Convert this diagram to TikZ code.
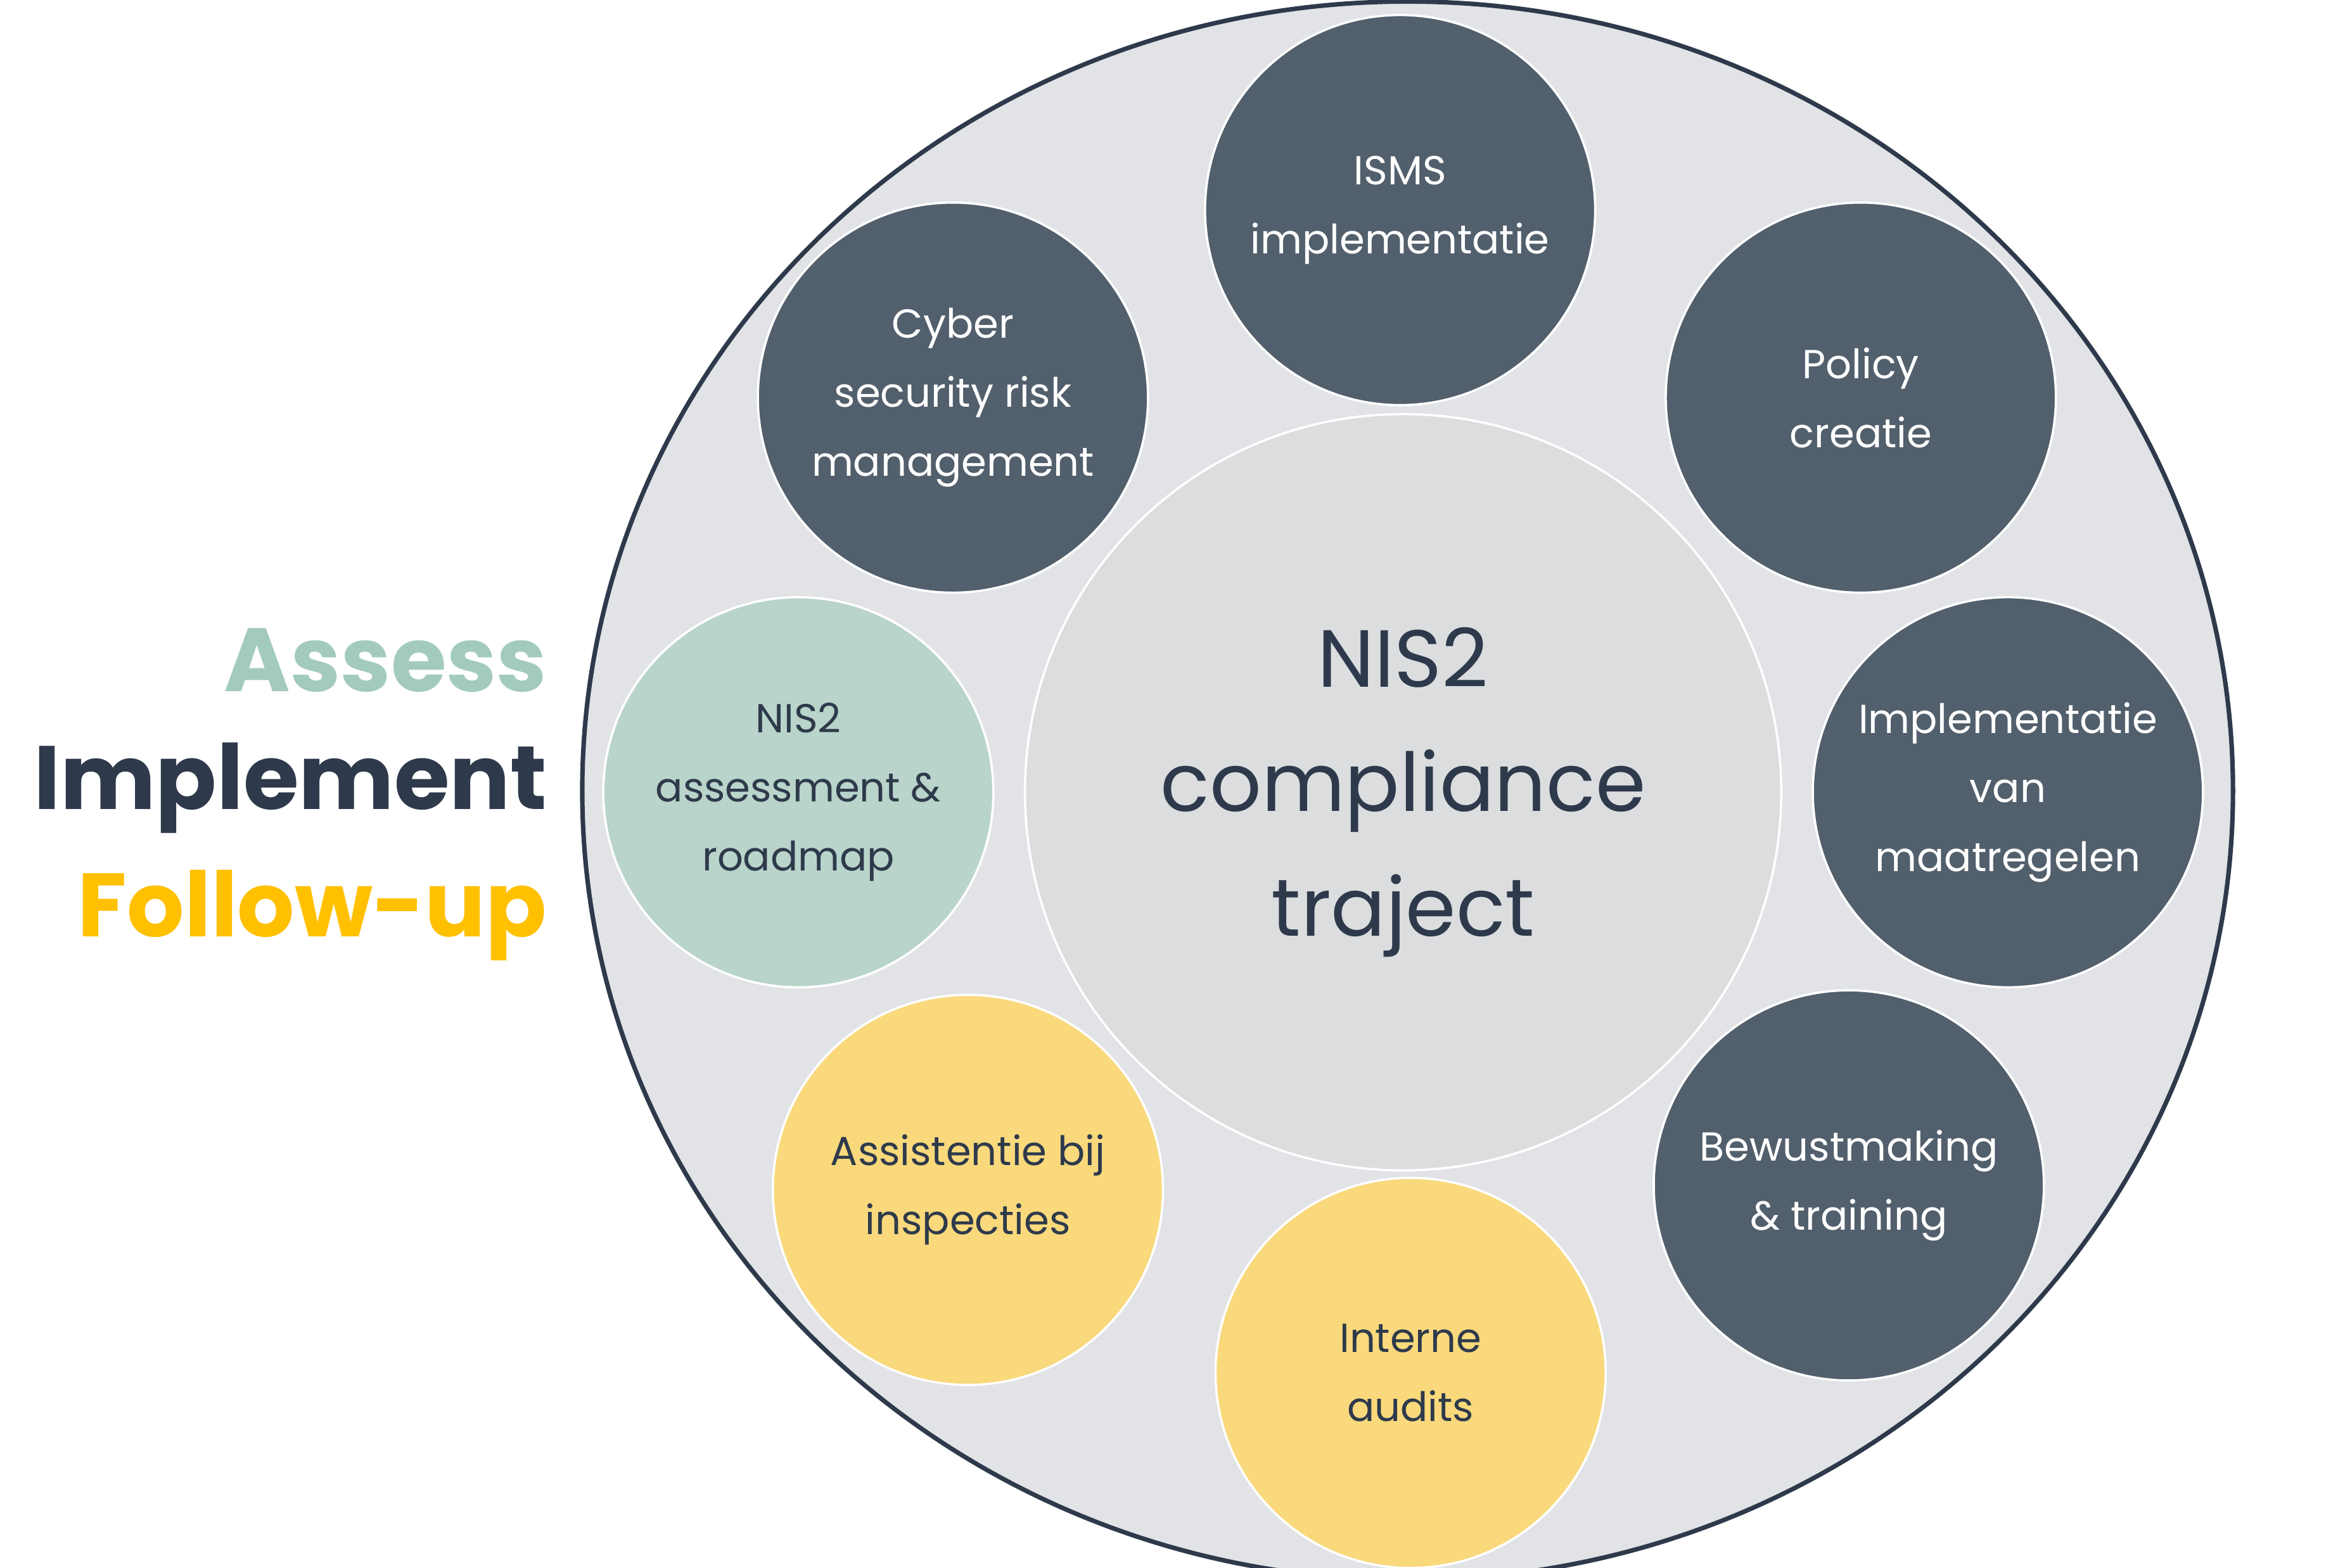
\documentclass[tikz,border=0pt]{standalone}
\usetikzlibrary{shapes.geometric}
\usepackage{fontspec}
\setmainfont{Poppins}
\definecolor{dk}{HTML}{525F6C}
\definecolor{bg}{HTML}{E1E3E6}
\definecolor{ol}{HTML}{2E3A4B}
\definecolor{ct}{HTML}{DCDDDF}
\definecolor{gr}{HTML}{B9D4CA}
\definecolor{yl}{HTML}{F9D97C}
\definecolor{as}{HTML}{A3CBBB}
\definecolor{fu}{HTML}{FFC000}
\tikzset{
 sm/.style={circle,minimum size=260pt,inner sep=0pt,draw=white,line width=1.5pt,align=center,font=\fontsize{27}{46}\selectfont},
 dkc/.style={sm,fill=dk,text=white},
 grc/.style={sm,fill=gr,text=ol},
 ylc/.style={sm,fill=yl,text=ol},
 lab/.style={anchor=east,font=\fontsize{60}{70}\selectfont\bfseries}
}
\begin{document}
\begin{tikzpicture}[x=1pt,y=-1pt]
\useasboundingbox (0,0) rectangle (1550,1045);
\node[ellipse,minimum width=1100pt,minimum height=1052pt,fill=bg,draw=ol,line width=3pt] (big) at (938,527) {};
\node[circle,minimum size=504pt,fill=ct,draw=white,line width=1.5pt,text=ol,align=center,font=\fontsize{54}{83}\selectfont] (c) at (935,528) {NIS2\\compliance\\traject};
\node[dkc] (isms) at (933,140) {ISMS\\implementatie};
\node[dkc] (cyb) at (635,265) {Cyber\\security risk\\management};
\node[dkc] (pol) at (1240,265) {Policy\\creatie};
\node[dkc] (imp) at (1338,528) {Implementatie\\van\\maatregelen};
\node[dkc] (bew) at (1232,790) {Bewustmaking\\\& training};
\node[ylc] (int) at (940,915) {Interne\\audits};
\node[ylc] (ass) at (645,793) {Assistentie bij\\inspecties};
\node[grc] (nis) at (532,528) {NIS2\\assessment \&\\roadmap};
\node[lab,text=as] (l1) at (368,440) {Assess};
\node[lab,text=ol] (l2) at (368,525) {Implement};
\node[lab,text=fu] (l3) at (368,610) {Follow-up};
\end{tikzpicture}
\end{document}
